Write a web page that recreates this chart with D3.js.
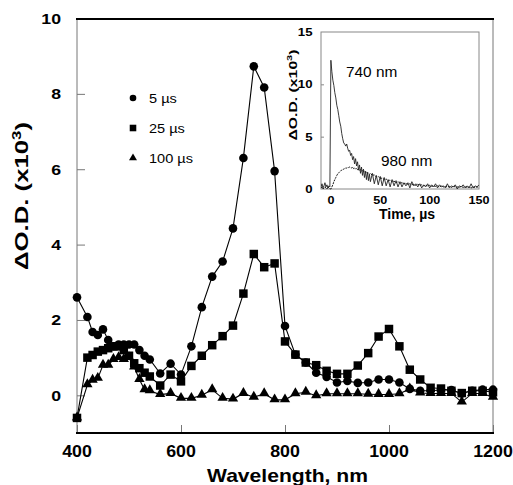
<!DOCTYPE html>
<html>
<head>
<meta charset="utf-8">
<script src="https://cdn.jsdelivr.net/npm/d3@7"></script>
<style>
  body { margin: 0; background: #fff; }
  svg { display: block; font-family: "Liberation Sans", Arial, sans-serif; }
</style>
</head>
<body>
<div id="chart"></div>
<script>
// wavelengths (nm) and delta O.D. (x10^3) for each delay
var wavelengths = [400, 420, 430, 440, 450, 460, 470, 480, 490, 500, 510, 520, 530, 540,
  560, 580, 600, 620, 640, 660, 680, 700, 720, 740, 760, 780, 800, 820, 840, 860, 880, 900,
  920, 940, 960, 980, 1000, 1020, 1040, 1060, 1080, 1100, 1120, 1140, 1160, 1180, 1200];

var od5us = [2.6, 2.08, 1.68, 1.6, 1.75, 1.47, 1.3, 1.35, 1.35, 1.35, 1.35, 1.2, 1.05, 0.95,
  0.58, 0.84, 0.55, 1.3, 2.34, 3.15, 3.55, 4.43, 6.3, 8.73, 8.17, 5.95, 1.84, 1.08, 0.87, 0.6, 0.49, 0.34,
  0.38, 0.33, 0.34, 0.42, 0.42, 0.34, 0.17, 0.12, 0.12, 0.14, 0.14, 0.05, 0.12, 0.15, 0.15];

var od25us = [-0.6, 1.0, 1.07, 1.16, 1.2, 1.25, 1.3, 1.3, 1.2, 1.05, 0.85, 0.72, 0.6, 0.5,
  0.26, 0.55, 0.37, 0.78, 1.05, 1.33, 1.57, 1.85, 2.7, 3.75, 3.4, 3.5, 1.43, 1.08, 0.87, 0.8, 0.65, 0.57,
  0.57, 0.79, 1.12, 1.56, 1.76, 1.3, 0.68, 0.42, 0.2, 0.18, 0.12, 0.06, 0.12, 0.12, 0.08];

var od100us = [-0.6, 0.28, 0.4, 0.45, 0.8, 0.8, 0.95, 1.0, 0.95, 1.0, 0.75, 0.42, 0.15, 0.12,
  0.02, 0.05, -0.08, -0.08, 0.0, 0.15, -0.08, -0.1, 0.05, -0.05, 0.04, -0.12, -0.12, 0.04, 0.08, -0.01, 0.04, 0.04,
  0.04, 0.04, 0.03, 0.02, 0.02, 0.04, 0.17, 0.06, 0.05, 0.05, 0.05, -0.18, 0.05, 0.05, -0.05];

var seriesNames = ["5 \u00b5s", "25 \u00b5s", "100 \u00b5s"];
var xTicks = [400, 600, 800, 1000, 1200];
var yTicks = [0, 2, 4, 6, 8, 10];

// inset kinetic traces (time in us, delta O.D. x10^3)
var insetTimes = [-10, -9, -8, -7, -6, -5, -4, -3, -2, -1,
  0, 1, 2, 3, 4, 5, 6, 7, 8, 9, 10, 11, 12, 13, 14, 15, 16, 17, 18, 19, 20,
  21, 22, 23, 24, 25, 26, 27, 28, 29, 30, 31, 32, 33, 34, 35, 36, 37, 38, 39, 40,
  42, 44, 46, 48, 50, 52, 54, 56, 58, 60, 62, 64, 66, 68, 70, 72, 74, 76, 78, 80,
  82, 84, 86, 88, 90, 92, 94, 96, 98, 100, 102, 104, 106, 108, 110, 112, 114, 116, 118, 120,
  122, 124, 126, 128, 130, 132, 134, 136, 138, 140, 142, 144, 146, 148, 150];

var trace740 = [0.2, 0.5, 0.1, 0.3, 0.6, 0.2, 0.4, 0.1, 0.3, 0.2,
  12.3, 11.2, 10.4, 9.9, 9.2, 8.7, 8.0, 7.6, 7.0, 6.4, 6.0,
  5.3, 4.8, 4.4, 4.3, 4.1, 4.3, 3.9, 3.6, 3.7, 3.2,
  3.4, 2.8, 3.1, 2.4, 2.9, 2.2, 2.6, 1.8, 2.3, 1.5,
  2.1, 1.3, 1.9, 1.1, 1.7, 0.9, 1.6, 0.8, 1.4, 0.7,
  1.5, 0.5, 1.3, 0.4, 1.2, 0.3, 1.1, 0.3, 0.9, 0.2,
  0.9, 0.3, 0.8, 0.2, 0.7, 0.2, 0.6, 0.3, 0.6, 0.1,
  0.7, 0.3, 0.5, 0.2, 0.5, 0.1, 0.4, 0.2, 0.5, 0.1,
  0.4, 0.2, 0.5, 0.1, 0.4, 0.2, 0.3, 0.1, 0.5, 0.1,
  0.3, 0.2, 0.4, 0.0, 0.3, 0.2, 0.4, 0.1, 0.3, 0.1,
  0.5, 0.1, 0.3, 0.2, 0.4];

var trace980 = [0.1, 0.2, 0.0, 0.1, 0.2, 0.1, 0.0, 0.2, 0.1, 0.0,
  0.0, 0.2, 0.4, 0.7, 0.9, 1.1, 1.3, 1.45, 1.55, 1.65, 1.75,
  1.8, 1.85, 1.9, 1.95, 2.0, 2.0, 2.05, 2.05, 2.1, 2.05,
  2.0, 2.1, 1.95, 2.0, 1.9, 2.0, 1.85, 1.9, 1.8, 1.85,
  1.7, 1.8, 1.65, 1.7, 1.55, 1.65, 1.5, 1.55, 1.4, 1.5,
  1.3, 1.35, 1.15, 1.2, 1.0, 1.05, 0.9, 0.95, 0.8, 0.85,
  0.7, 0.75, 0.6, 0.7, 0.55, 0.6, 0.5, 0.55, 0.45, 0.5,
  0.4, 0.45, 0.35, 0.45, 0.35, 0.4, 0.3, 0.35, 0.3, 0.35,
  0.25, 0.3, 0.25, 0.3, 0.2, 0.3, 0.2, 0.25, 0.2, 0.25,
  0.15, 0.25, 0.2, 0.2, 0.15, 0.25, 0.15, 0.2, 0.15, 0.2,
  0.1, 0.2, 0.15, 0.2, 0.15];

var insetXTicks = [0, 50, 100, 150];
var insetYTicks = [0, 5, 10, 15];

var W = 513, H = 485;
var svg = d3.select("#chart").append("svg").attr("width", W).attr("height", H);

var x = d3.scaleLinear().domain([400, 1200]).range([77, 493]);
var y = d3.scaleLinear().domain([-1, 10]).range([433, 18.5]);

// helper for horizontally stretched text
function label(g, str, px, py, size, weight, anchor, sx) {
  return g.append("text")
    .attr("transform", "translate(" + px + "," + py + ") scale(" + sx + ",1)")
    .attr("text-anchor", anchor)
    .style("font-size", size + "px")
    .style("font-weight", weight)
    .text(str);
}

// frame: gray left/right, black top/bottom
svg.append("line").attr("x1", 77).attr("x2", 77).attr("y1", 18.5).attr("y2", 433)
  .attr("stroke", "#777").attr("stroke-width", 1);
svg.append("line").attr("x1", 493).attr("x2", 493).attr("y1", 18.5).attr("y2", 433)
  .attr("stroke", "#777").attr("stroke-width", 1);

// Y axis ticks (inward)
var yAxis = svg.append("g")
  .attr("transform", "translate(77,0)")
  .call(d3.axisLeft(y).tickValues(yTicks).tickSizeInner(-8).tickSizeOuter(0).tickPadding(0).tickFormat(d3.format("d")));
yAxis.select(".domain").remove();
yAxis.selectAll("line").attr("stroke", "#777");
yAxis.selectAll("text").remove();
yTicks.forEach(function (t) {
  label(svg, t, 61, y(t) + 5.3, 14.5, "bold", "end", 1.22);
});

// X axis ticks (inward)
var xAxis = svg.append("g")
  .attr("transform", "translate(0,433)")
  .call(d3.axisBottom(x).tickValues(xTicks).tickSizeInner(-8).tickSizeOuter(0));
xAxis.select(".domain").remove();
xAxis.selectAll("line").attr("stroke", "#777");
xAxis.selectAll("text").remove();
xTicks.forEach(function (t) {
  label(svg, t, x(t), 457, 16.5, "bold", "middle", 1.08);
});

svg.append("line").attr("x1", 76).attr("x2", 494).attr("y1", 19).attr("y2", 19)
  .attr("stroke", "#000").attr("stroke-width", 2);
svg.append("line").attr("x1", 76).attr("x2", 494).attr("y1", 433).attr("y2", 433)
  .attr("stroke", "#000").attr("stroke-width", 2.2);

// axis titles
svg.append("text")
  .attr("x", 287.5).attr("y", 482)
  .attr("text-anchor", "middle")
  .attr("textLength", 161).attr("lengthAdjust", "spacingAndGlyphs")
  .style("font-size", "18.5px").style("font-weight", "bold")
  .text("Wavelength, nm");

var yt = svg.append("text")
  .attr("transform", "translate(28,196) rotate(-90)")
  .attr("text-anchor", "middle")
  .attr("textLength", 148).attr("lengthAdjust", "spacingAndGlyphs")
  .style("font-size", "18.5px").style("font-weight", "bold");
yt.append("tspan").text("\u0394O.D. (x10");
yt.append("tspan").attr("dy", -7).style("font-size", "12px").text("3");
yt.append("tspan").attr("dy", 7).text(")");

// series
var series = [
  { name: seriesNames[0], values: od5us, shape: d3.symbolCircle, size: 58 },
  { name: seriesNames[1], values: od25us, shape: d3.symbolSquare, size: 72 },
  { name: seriesNames[2], values: od100us, shape: d3.symbolTriangle, size: 46 }
];

var line = d3.line().x(function (d) { return x(d[0]); }).y(function (d) { return y(d[1]); });

series.forEach(function (s) {
  var pts = wavelengths.map(function (w, i) { return [w, s.values[i]]; });
  svg.append("path").datum(pts)
    .attr("d", line)
    .attr("fill", "none").attr("stroke", "#000").attr("stroke-width", 1.1);
});
series.forEach(function (s) {
  var pts = wavelengths.map(function (w, i) { return [w, s.values[i]]; });
  svg.selectAll(null).data(pts).enter().append("path")
    .attr("transform", function (d) {
      var dy = s.shape === d3.symbolTriangle ? -0.5 : 0;
      return "translate(" + x(d[0]) + "," + (y(d[1]) + dy) + ")";
    })
    .attr("d", d3.symbol().type(s.shape).size(s.size))
    .attr("fill", "#000");
});

// legend
var legendY = [98, 128, 158];
series.forEach(function (s, i) {
  svg.append("path")
    .attr("transform", "translate(133," + legendY[i] + ")")
    .attr("d", d3.symbol().type(s.shape).size(s.size * 0.6))
    .attr("fill", "#000");
  label(svg, s.name, 149, legendY[i] + 5, 13, "normal", "start", 1.12);
});

// inset
var ix = d3.scaleLinear().domain([-10, 150]).range([321, 479]);
var iy = d3.scaleLinear().domain([0, 15]).range([189, 32]);

svg.append("rect").attr("x", 321).attr("y", 32).attr("width", 158).attr("height", 157)
  .attr("fill", "#fff").attr("stroke", "#888").attr("stroke-width", 1);

svg.append("clipPath").attr("id", "insetClip")
  .append("rect").attr("x", 321).attr("y", 32).attr("width", 158).attr("height", 158);

var iyAxis = svg.append("g").attr("transform", "translate(321,0)")
  .call(d3.axisLeft(iy).tickValues([5, 10]).tickSizeInner(-3).tickSizeOuter(0));
iyAxis.select(".domain").remove();
iyAxis.selectAll("line").attr("stroke", "#888");
iyAxis.selectAll("text").remove();

insetYTicks.forEach(function (t) {
  label(svg, t, 312.5, iy(t) + 4, 11, "bold", "end", 1.2);
});
insetXTicks.forEach(function (t) {
  label(svg, t, ix(t), 203.5, 10.5, "bold", "middle", 1.2);
});

var iline = d3.line().x(function (d) { return ix(d[0]); }).y(function (d) { return iy(d[1]); });
var g740 = insetTimes.map(function (t, i) { return [t, trace740[i]]; });
var g980 = insetTimes.map(function (t, i) { return [t, trace980[i]]; });

svg.append("path").datum(g980).attr("d", iline)
  .attr("clip-path", "url(#insetClip)")
  .attr("fill", "none").attr("stroke", "#111").attr("stroke-width", 1)
  .attr("stroke-dasharray", "2,1");
svg.append("path").datum(g740).attr("d", iline)
  .attr("clip-path", "url(#insetClip)")
  .attr("fill", "none").attr("stroke", "#222").attr("stroke-width", 0.9);

label(svg, "740 nm", 346, 77, 14, "normal", "start", 1.1);
label(svg, "980 nm", 381, 166, 14, "normal", "start", 1.1);

svg.append("text")
  .attr("x", 407).attr("y", 219)
  .attr("text-anchor", "middle")
  .style("font-size", "14px").style("font-weight", "bold")
  .text("Time, \u00b5s");

var it = svg.append("text")
  .attr("transform", "translate(297,95) rotate(-90)")
  .attr("text-anchor", "middle")
  .attr("textLength", 91).attr("lengthAdjust", "spacingAndGlyphs")
  .style("font-size", "11.5px").style("font-weight", "bold");
it.append("tspan").text("\u0394O.D. (x10");
it.append("tspan").attr("dy", -5).style("font-size", "8px").text("3");
it.append("tspan").attr("dy", 5).text(")");
</script>
</body>
</html>
